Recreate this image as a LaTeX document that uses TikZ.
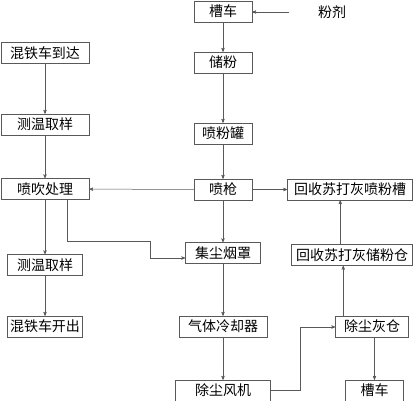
\documentclass[tikz,border=0pt]{standalone}
\usepackage{fontspec}
\setmainfont{Noto Sans CJK SC}
\usetikzlibrary{positioning, calc}
\usetikzlibrary{arrows}

\begin{document}
\begin{tikzpicture}[node distance=40pt, font=\fontsize{14}{16}\selectfont, align=center, >=stealth', line width=0.5pt]
        % Define colors
        \definecolor{linegray}{rgb}{0.35, 0.35, 0.35}
        \tikzset{box/.style={draw=linegray, text=black, minimum height=21pt, inner sep=2pt},
                 flow/.style={->, draw=linegray}}

        % Frame
        \useasboundingbox (0,0) rectangle (413pt,-400pt);

        % Nodes, middle column
        \node[box, minimum width=58pt] (car1) at (223pt,-11.5pt) {槽车};
        \node[box, minimum width=58pt, below=29.5pt of car1] (store) {储粉};
        \node[box, minimum width=58pt, below=49.5pt of store] (sprayer) {喷粉罐};
        \node[box, minimum width=58pt, below=34.5pt of sprayer] (gun) {喷枪};
        \node[box, minimum width=75pt, below=42pt of gun] (hood) {集尘烟罩};
        \node[box, minimum width=88pt, below=52pt of hood] (cooler) {气体冷却器};
        \node[box, minimum width=95pt, below=42.5pt of cooler] (fan) {除尘风机};
        \node[text=black] (powder) at (332pt,-12pt) {粉剂};
        \coordinate[left=25pt of powder] (feed);

        % Nodes, left column
        \node[box, minimum width=88pt] (arrive) at (45pt,-53pt) {混铁车到达};
        \node[box, minimum width=88pt, below=50pt of arrive] (temp1) {测温取样};
        \node[box, minimum width=88pt, below=43pt of temp1] (blow) {喷吹处理};
        \node[box, minimum width=75pt, below=54.5pt of blow] (temp2) {测温取样};
        \node[box, minimum width=75pt, below=40pt of temp2] (leave) {混铁车开出};

        % Nodes, right column
        \node[box, minimum width=125pt, right=35pt of gun] (tank) {回收苏打灰喷粉槽};
        \node[box, minimum width=121pt, below=44pt of tank, xshift=2pt] (bin) {回收苏打灰储粉仓};
        \node[box, minimum width=73pt, below=50pt of bin, xshift=20pt] (ash) {除尘灰仓};
        \node[box, minimum width=58pt, below=42.5pt of ash, xshift=2.5pt] (car2) {槽车};

        % Bends
        \coordinate (bend1) at (150pt,-241pt);
        \coordinate (bend2) at (300pt,-327pt);

        % Edges
        \foreach \a/\b in {car1/store, store/sprayer, sprayer/gun, gun/hood, hood/cooler, cooler/fan,
                           arrive/temp1, temp1/blow, blow/temp2, temp2/leave, gun/blow, gun/tank} {
            \draw[flow] (\a) -- (\b);
        }
        \draw[flow] (feed) -- (feed -| car1.east);
        \draw[flow] ([xshift=22pt]blow.south) |- (bend1) |- ([yshift=-5pt]hood.west);
        \draw[flow] (fan.east) -| (bend2) -- (bend2 -| ash.west);
        \draw[flow] (car2.north |- ash.south) -- (car2);
        \draw[flow] ([xshift=8pt]ash.north west) -- ([xshift=8pt]ash.north west |- bin.south);
        \draw[flow] ([xshift=49pt]bin.north west) -- ([xshift=49pt]bin.north west |- tank.south);
    \end{tikzpicture}
\end{document}
